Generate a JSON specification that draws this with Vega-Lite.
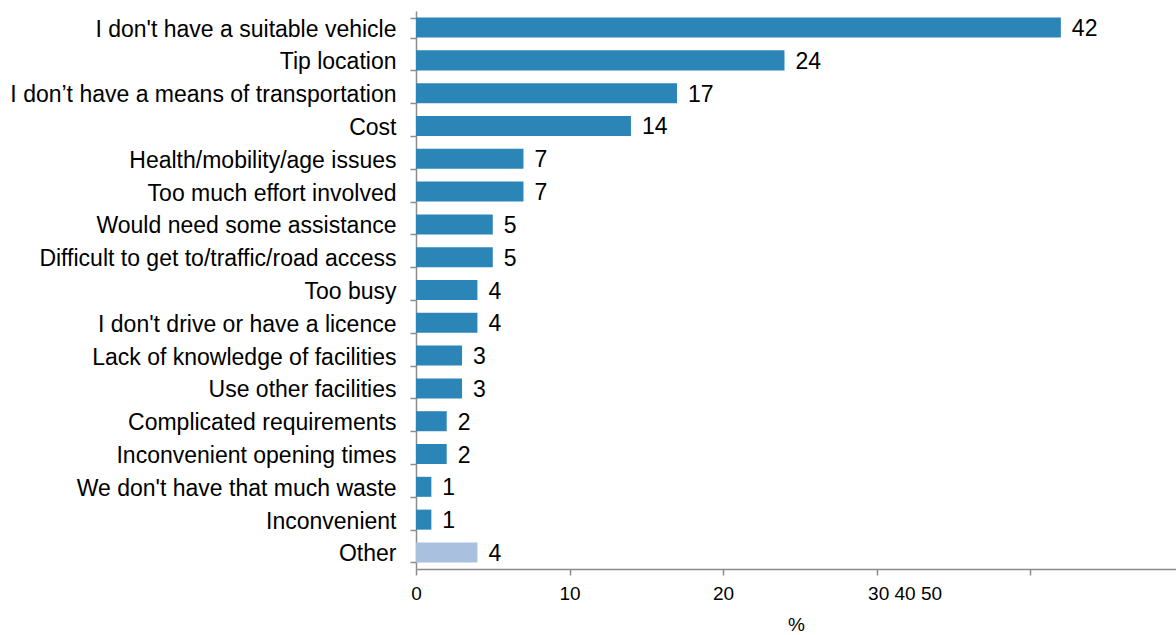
{
  "$schema": "https://vega.github.io/schema/vega-lite/v6.json",
  "autosize": "none",
  "width": 760,
  "height": 558,
  "padding": {"left": 416, "top": 11, "right": 0, "bottom": 66},
  "background": "white",
  "config": {"view": {"stroke": null}, "font": "Liberation Sans"},
  "data": {"values": [
    {"reason": "I don't have a suitable vehicle", "pct": 42, "group": "main"},
    {"reason": "Tip location", "pct": 24, "group": "main"},
    {"reason": "I don’t have a means of transportation", "pct": 17, "group": "main"},
    {"reason": "Cost", "pct": 14, "group": "main"},
    {"reason": "Health/mobility/age issues", "pct": 7, "group": "main"},
    {"reason": "Too much effort involved", "pct": 7, "group": "main"},
    {"reason": "Would need some assistance", "pct": 5, "group": "main"},
    {"reason": "Difficult to get to/traffic/road access", "pct": 5, "group": "main"},
    {"reason": "Too busy", "pct": 4, "group": "main"},
    {"reason": "I don't drive or have a licence", "pct": 4, "group": "main"},
    {"reason": "Lack of knowledge of facilities", "pct": 3, "group": "main"},
    {"reason": "Use other facilities", "pct": 3, "group": "main"},
    {"reason": "Complicated requirements\u2005", "pct": 2, "group": "main"},
    {"reason": "Inconvenient opening times\u2005", "pct": 2, "group": "main"},
    {"reason": "We don't have that much waste", "pct": 1, "group": "main"},
    {"reason": "Inconvenient", "pct": 1, "group": "main"},
    {"reason": "Other\u2005", "pct": 4, "group": "other"}
  ]},
  "encoding": {
    "y": {
      "field": "reason", "type": "nominal", "sort": null,
      "scale": {"paddingInner": 0.39, "paddingOuter": 0.2},
      "axis": {
        "title": null, "domainColor": "#8c8c8c", "domainWidth": 1.5,
        "tickColor": "#8c8c8c", "tickSize": 6, "tickWidth": 1.5, "tickBand": "extent",
        "labelFont": "Liberation Sans", "labelFontSize": 23, "labelColor": "#000000",
        "labelPadding": 14, "labelOffset": 1.5,
        "labelLimit": 500
      }
    },
    "x": {
      "field": "pct", "type": "quantitative",
      "scale": {"domain": [0, 49.5], "nice": false},
      "axis": {
        "title": "%", "values": [0, 10, 20, 30, 40],
        "labelExpr": "datum.value == 30 ? '30 40 50' : datum.value == 40 ? '' : datum.label",
        "labelOffset": {"condition": {"test": "datum.value == 30", "value": 28}, "value": 0},
        "labelFlush": false,
        "grid": false, "domainColor": "#8c8c8c", "domainWidth": 1.5,
        "tickColor": "#8c8c8c", "tickSize": 6, "tickWidth": 1.5,
        "labelFont": "Liberation Sans", "labelFontSize": 19, "labelColor": "#000000",
        "labelPadding": 9,
        "titleFont": "Liberation Sans", "titleFontSize": 19, "titleFontWeight": "normal",
        "titleColor": "#000000", "titlePadding": 12
      }
    }
  },
  "layer": [
    {
      "mark": {"type": "bar"},
      "encoding": {
        "color": {
          "field": "group", "type": "nominal",
          "scale": {"domain": ["main", "other"], "range": ["#2B85B7", "#A9C1DF"]},
          "legend": null
        }
      }
    },
    {
      "mark": {"type": "text", "align": "left", "baseline": "middle", "dx": 11, "dy": 1.5, "fontSize": 23, "color": "#000000", "font": "Liberation Sans"},
      "encoding": {"text": {"field": "pct", "type": "quantitative"}}
    }
  ]
}
